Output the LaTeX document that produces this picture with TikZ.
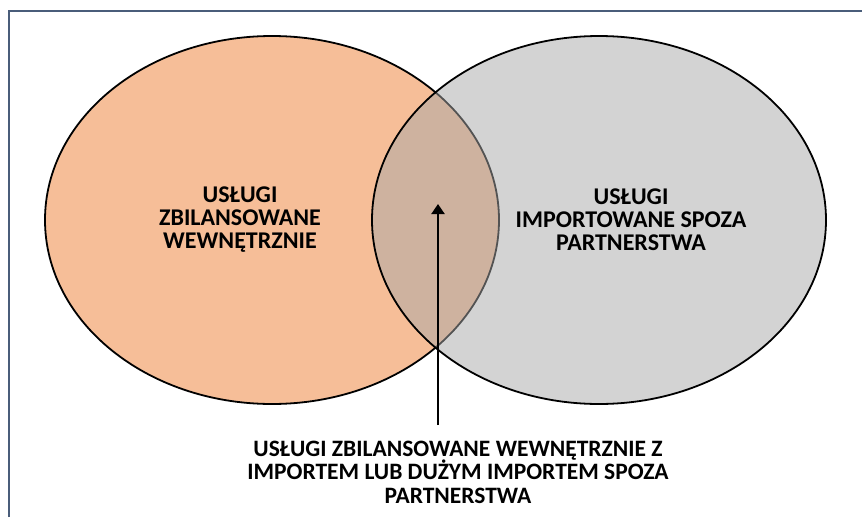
\documentclass[tikz,border=0pt]{standalone}
\usepackage{fontspec}
\setmainfont{Carlito}[BoldFont={Carlito Bold}]
\usetikzlibrary{shapes.geometric,arrows.meta}
\definecolor{orangefill}{HTML}{F6BE98}
\definecolor{grayfill}{HTML}{A7A7A7}
\definecolor{framecol}{HTML}{4A5D7A}
\tikzset{
  venn/.style={ellipse, draw=black, line width=1.8pt, minimum width=454pt, minimum height=368pt, inner sep=0pt},
  lbl/.style={align=center, font=\fontsize{24}{23}\selectfont\bfseries, inner sep=0pt},
  blbl/.style={align=center, font=\fontsize{23.5}{23.5}\selectfont\bfseries, inner sep=0pt},
  pointer/.style={line width=2pt, -{Triangle[width=13pt,length=10pt]}}
}
\begin{document}
\begin{tikzpicture}[x=1pt,y=-1pt]
\useasboundingbox (0,0) rectangle (862,517);
\draw[framecol, line width=2pt] (9,517) -- (9,11) -- (862,11);
\node[venn, fill=orangefill] (left) at (272,220) {};
\node[venn, fill=grayfill, fill opacity=0.5, draw opacity=1] (right) at (599,220) {};
\node[lbl] (ltext) at (240,220) {USŁUGI\\ZBILANSOWANE\\WEWNĘTRZNIE};
\node[lbl] (rtext) at (631,220) {USŁUGI\\IMPORTOWANE SPOZA\\PARTNERSTWA};
\node[blbl] (btext) at (458,472) {USŁUGI ZBILANSOWANE WEWNĘTRZNIE Z\\IMPORTEM LUB DUŻYM IMPORTEM SPOZA\\PARTNERSTWA};
\coordinate (start) at (438,425);
\coordinate (tip) at (438,204);
\draw[pointer] (start) -- (tip);
\end{tikzpicture}
\end{document}
